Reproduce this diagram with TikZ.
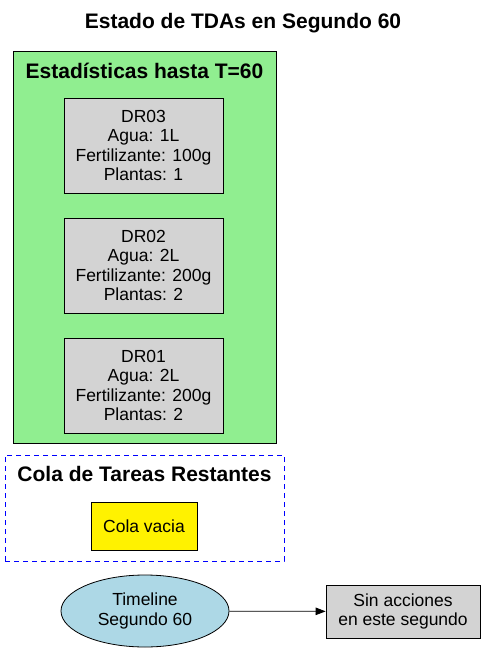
\documentclass[tikz,border=0pt]{standalone}
\usepackage{fontspec}
\setmainfont{Liberation Sans}
\usepackage{tikz}
\usetikzlibrary{arrows.meta,positioning,shapes.geometric}
\definecolor{statgreen}{RGB}{144,238,144}
\definecolor{boxgray}{RGB}{211,211,211}
\definecolor{timeblue}{RGB}{173,216,230}
\definecolor{colablue}{RGB}{0,0,255}
\tikzset{
	>=Latex,
	txt/.style={
		font=\fontsize{17.5}{19.5}\selectfont,
		align=center
	},
	headtxt/.style={
		font=\bfseries\fontsize{21}{24}\selectfont
	},
	statbox/.style={
		draw,
		line width=0.8pt,
		fill=boxgray,
		minimum width=159pt,
		minimum height=95pt,
		inner sep=0pt,
		txt
	},
	cluster/.style={
		draw,
		line width=0.8pt,
		inner sep=0pt
	},
	conn/.style={
		-{Triangle[length=10pt,width=7.5pt]},
		line width=0.8pt
	}
}
\begin{document}
\begin{tikzpicture}[x=1pt,y=-1pt]
	\useasboundingbox (0,0) rectangle (486,654);
	
	% Title
	\node[headtxt] (title) at (243,23) {Estado de TDAs en Segundo 60};
	
	% Clusters
	\node[cluster,fill=statgreen,minimum width=263pt,minimum height=392pt] (stats) at (144.5,247) {};
	\node[headtxt] (statslbl) at (144.5,71) {Estadísticas hasta T=60};
	
	\node[cluster,draw=colablue,dash pattern=on 5pt off 4pt,minimum width=279pt,minimum height=106pt] (cola) at (144.5,508) {};
	\node[headtxt] (colalbl) at (144.5,474) {Cola de Tareas Restantes};
	
	% Nodes
	\node[statbox] (dr03) at (143.5,145.5) {DR03\\Agua: 1L\\Fertilizante: 100g\\Plantas: 1};
	\node[statbox] (dr02) at (143.5,265.5) {DR02\\Agua: 2L\\Fertilizante: 200g\\Plantas: 2};
	\node[statbox] (dr01) at (143.5,385.5) {DR01\\Agua: 2L\\Fertilizante: 200g\\Plantas: 2};
	
	\node[draw,line width=0.8pt,fill=yellow,minimum width=106pt,minimum height=48pt,inner sep=0pt,txt] (vacia) at (144,526) {Cola vacia};
	
	\node[ellipse,draw,line width=0.8pt,fill=timeblue,minimum width=168pt,minimum height=72pt,inner sep=0pt,txt] (timeline) at (145,611) {Timeline\\Segundo 60};
	\node[draw,line width=0.8pt,fill=boxgray,minimum width=154pt,minimum height=53pt,inner sep=0pt,txt] (sinacc) at (403,611.5) {Sin acciones\\en este segundo};
	
	% Connections
	\draw[conn] (timeline) -- (sinacc);
	
\end{tikzpicture}
\end{document}
